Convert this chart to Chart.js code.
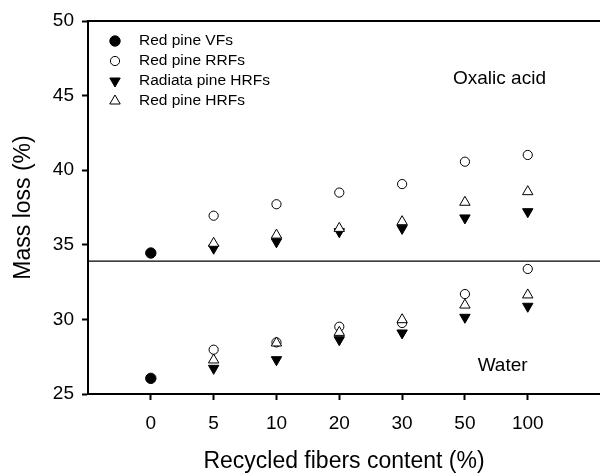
<!DOCTYPE html>
<html>
<head>
<meta charset="utf-8">
<script src="https://cdn.jsdelivr.net/npm/chart.js@4/dist/chart.umd.min.js"></script>
<style>
  html, body { margin: 0; padding: 0; background: #fff; }
  #wrap { width: 600px; height: 475px; position: relative; }
</style>
</head>
<body>
<div id="wrap"><canvas id="massChart"></canvas></div>
<script>
// categories (recycled fibers content, %)
var categories = ["0", "5", "10", "20", "30", "50", "100"];
var yTicks = [25, 30, 35, 40, 45, 50];

// mass loss (%) - oxalic acid treatment
var vfOxalic = [34.45];
var rrfOxalic = [null, 36.95, 37.72, 38.5, 39.07, 40.57, 41.02];
var radiataOxalic = [null, 34.77, 35.2, 35.88, 36.1, 36.8, 37.22];
var hrfOxalic = [null, 35.1, 35.65, 36.1, 36.55, 37.85, 38.56];

// mass loss (%) - water treatment
var vfWater = [26.05];
var rrfWater = [null, 27.97, 28.46, 29.51, 29.76, 31.7, 33.38];
var radiataWater = [null, 26.72, 27.3, 28.64, 29.09, 30.14, 30.88];
var hrfWater = [null, 27.28, 28.42, 29.13, 29.98, 30.96, 31.64];

var dividerValue = 33.9;
var FONT = "'Liberation Sans', Arial, sans-serif";

function toPoints(a, b) {
  var pts = [];
  [a, b].forEach(function (arr) {
    arr.forEach(function (v, i) {
      if (v !== null) pts.push({ x: i, y: v });
    });
  });
  return pts;
}

var series = [
  { label: "Red pine VFs", data: toPoints(vfOxalic, vfWater), style: "circle", fill: "#000", r: 5.2, rot: 0, order: 4 },
  { label: "Red pine RRFs", data: toPoints(rrfOxalic, rrfWater), style: "circle", fill: "#fff", r: 4.6, rot: 0, order: 2 },
  { label: "Radiata pine HRFs", data: toPoints(radiataOxalic, radiataWater), style: "triangle", fill: "#000", r: 6, rot: 180, order: 3 },
  { label: "Red pine HRFs", data: toPoints(hrfOxalic, hrfWater), style: "triangle", fill: "#fff", r: 6, rot: 0, order: 1 }
];

function drawMarker(ctx, s, x, y) {
  ctx.save();
  ctx.fillStyle = s.fill;
  ctx.strokeStyle = "#000";
  ctx.lineWidth = 1;
  ctx.beginPath();
  if (s.style === "circle") {
    ctx.arc(x, y, s.r, 0, Math.PI * 2);
  } else {
    var r = s.r;
    var d = s.rot ? -1 : 1;
    ctx.moveTo(x, y - d * r);
    ctx.lineTo(x + r * 0.87, y + d * r * 0.5);
    ctx.lineTo(x - r * 0.87, y + d * r * 0.5);
    ctx.closePath();
  }
  ctx.fill();
  ctx.stroke();
  ctx.restore();
}

var decor = {
  id: "decor",
  beforeDatasetsDraw: function (chart) {
    var ctx = chart.ctx;
    var a = chart.chartArea;
    var yScale = chart.scales.y;
    ctx.save();
    // top frame line
    ctx.strokeStyle = "#000";
    ctx.lineWidth = 2;
    ctx.beginPath();
    ctx.moveTo(a.left, a.top);
    ctx.lineTo(a.right, a.top);
    ctx.stroke();
    // divider between oxalic acid and water
    var yy = yScale.getPixelForValue(dividerValue);
    ctx.lineWidth = 1.3;
    ctx.beginPath();
    ctx.moveTo(a.left, yy);
    ctx.lineTo(a.right, yy);
    ctx.stroke();
    ctx.restore();
  },
  afterDraw: function (chart) {
    var ctx = chart.ctx;
    var xs = chart.scales.x, ys = chart.scales.y;
    ctx.save();
    ctx.fillStyle = "#000";
    ctx.textBaseline = "middle";
    ctx.font = "15.5px " + FONT;
    series.forEach(function (s, i) {
      var y = 41 + i * 20;
      drawMarker(ctx, s, 115, y);
      ctx.fillText(s.label, 139, y);
    });
    ctx.font = "19px " + FONT;
    ctx.textAlign = "center";
    ctx.fillText("Oxalic acid", xs.getPixelForValue(5.55), ys.getPixelForValue(46.1));
    ctx.fillText("Water", xs.getPixelForValue(5.6), ys.getPixelForValue(26.9));
    ctx.restore();
  }
};

var ctx = document.getElementById("massChart");

new Chart(ctx, {
  type: "scatter",
  plugins: [decor],
  data: {
    datasets: series.map(function (s) {
      return {
        label: s.label,
        data: s.data,
        order: s.order,
        pointStyle: s.style,
        pointRadius: s.r,
        pointRotation: s.rot,
        pointBackgroundColor: s.fill,
        pointBorderColor: "#000",
        pointBorderWidth: 1,
        showLine: false
      };
    })
  },
  options: {
    responsive: true,
    maintainAspectRatio: false,
    animation: false,
    layout: { autoPadding: false, padding: { top: 21, right: 0, left: 0, bottom: 0 } },
    plugins: {
      legend: { display: false },
      tooltip: { enabled: false }
    },
    scales: {
      x: {
        type: "linear",
        min: -1,
        max: 7.15,
        afterBuildTicks: function (axis) {
          axis.ticks = categories.map(function (c, i) { return { value: i }; });
        },
        afterFit: function (axis) { axis.height = 81; },
        border: { display: true, color: "#000", width: 2 },
        grid: { drawOnChartArea: false, drawTicks: true, tickLength: 6, color: "#000", tickWidth: 2 },
        ticks: {
          color: "#000",
          font: { family: FONT, size: 19 },
          padding: 12,
          maxRotation: 0,
          callback: function (v) { return categories[v]; }
        },
        title: {
          display: true,
          text: "Recycled fibers content (%)",
          color: "#000",
          font: { family: FONT, size: 23 },
          padding: { top: 4, bottom: 0 }
        }
      },
      y: {
        min: 25,
        max: 50,
        afterBuildTicks: function (axis) {
          axis.ticks = yTicks.map(function (v) { return { value: v }; });
        },
        afterFit: function (axis) { axis.width = 88; },
        border: { display: true, color: "#000", width: 2 },
        grid: { drawOnChartArea: false, drawTicks: true, tickLength: 6, color: "#000", tickWidth: 2 },
        ticks: {
          color: "#000",
          font: { family: FONT, size: 19 },
          padding: 8
        },
        title: {
          display: true,
          text: "Mass loss (%)",
          color: "#000",
          font: { family: FONT, size: 23 },
          padding: { top: 10, bottom: 0 }
        }
      }
    }
  }
});
</script>
</body>
</html>
